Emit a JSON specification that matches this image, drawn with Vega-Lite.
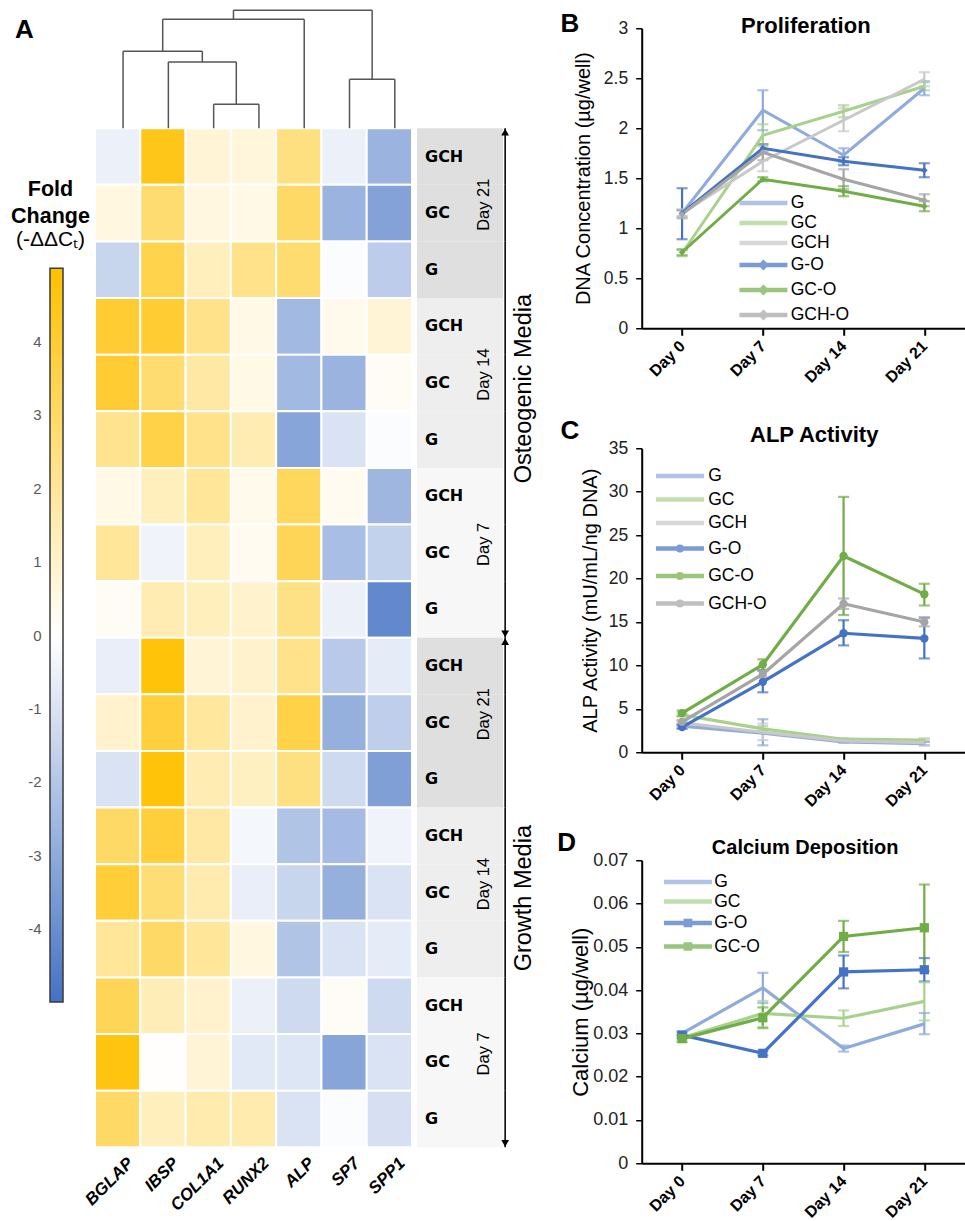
{
"$schema": "https://vega.github.io/schema/vega-lite/v6.json",
"background": "white",
"padding": {"left": 0, "top": 9.25, "right": 0, "bottom": 0},
"config": {"font": "Liberation Sans", "view": {"stroke": null}, "axis": {"grid": false}},
"datasets": {
"heat": [
{"sample":"Osteogenic Day 21 GCH","media":"Osteogenic Media","day":"Day 21","grp":"GCH","BGLAP":-0.5,"IBSP":4.5,"COL1A1":0.8,"RUNX2":0.7,"ALP":2.5,"SP7":-0.5,"SPP1":-2.7},
{"sample":"Osteogenic Day 21 GC","media":"Osteogenic Media","day":"Day 21","grp":"GC","BGLAP":0.6,"IBSP":2.8,"COL1A1":0.6,"RUNX2":0.5,"ALP":3.0,"SP7":-2.7,"SPP1":-3.3},
{"sample":"Osteogenic Day 21 G","media":"Osteogenic Media","day":"Day 21","grp":"G","BGLAP":-1.5,"IBSP":3.5,"COL1A1":1.3,"RUNX2":2.3,"ALP":2.8,"SP7":-0.1,"SPP1":-1.8},
{"sample":"Osteogenic Day 14 GCH","media":"Osteogenic Media","day":"Day 14","grp":"GCH","BGLAP":4.0,"IBSP":4.0,"COL1A1":2.3,"RUNX2":0.5,"ALP":-2.5,"SP7":0.4,"SPP1":0.8},
{"sample":"Osteogenic Day 14 GC","media":"Osteogenic Media","day":"Day 14","grp":"GC","BGLAP":4.0,"IBSP":2.8,"COL1A1":1.8,"RUNX2":0.5,"ALP":-2.5,"SP7":-2.7,"SPP1":0.2},
{"sample":"Osteogenic Day 14 G","media":"Osteogenic Media","day":"Day 14","grp":"G","BGLAP":2.2,"IBSP":3.6,"COL1A1":2.3,"RUNX2":1.5,"ALP":-3.2,"SP7":-1.0,"SPP1":-0.1},
{"sample":"Osteogenic Day 7 GCH","media":"Osteogenic Media","day":"Day 7","grp":"GCH","BGLAP":0.5,"IBSP":1.3,"COL1A1":2.0,"RUNX2":0.4,"ALP":3.2,"SP7":0.3,"SPP1":-2.6},
{"sample":"Osteogenic Day 7 GC","media":"Osteogenic Media","day":"Day 7","grp":"GC","BGLAP":2.0,"IBSP":-0.4,"COL1A1":1.3,"RUNX2":0.3,"ALP":3.3,"SP7":-2.3,"SPP1":-1.6},
{"sample":"Osteogenic Day 7 G","media":"Osteogenic Media","day":"Day 7","grp":"G","BGLAP":0.2,"IBSP":1.5,"COL1A1":1.3,"RUNX2":1.0,"ALP":2.4,"SP7":-0.5,"SPP1":-4.2},
{"sample":"Growth Day 21 GCH","media":"Growth Media","day":"Day 21","grp":"GCH","BGLAP":-0.6,"IBSP":4.8,"COL1A1":0.8,"RUNX2":1.0,"ALP":2.3,"SP7":-1.9,"SPP1":-0.7},
{"sample":"Growth Day 21 GC","media":"Growth Media","day":"Day 21","grp":"GC","BGLAP":1.0,"IBSP":3.8,"COL1A1":1.9,"RUNX2":1.0,"ALP":3.6,"SP7":-2.8,"SPP1":-1.7},
{"sample":"Growth Day 21 G","media":"Growth Media","day":"Day 21","grp":"G","BGLAP":-1.0,"IBSP":4.8,"COL1A1":1.5,"RUNX2":1.2,"ALP":2.5,"SP7":-1.3,"SPP1":-3.4},
{"sample":"Growth Day 14 GCH","media":"Growth Media","day":"Day 14","grp":"GCH","BGLAP":3.0,"IBSP":3.9,"COL1A1":1.8,"RUNX2":-0.3,"ALP":-2.1,"SP7":-2.4,"SPP1":-0.4},
{"sample":"Growth Day 14 GC","media":"Growth Media","day":"Day 14","grp":"GC","BGLAP":3.9,"IBSP":2.7,"COL1A1":1.6,"RUNX2":-0.6,"ALP":-1.5,"SP7":-2.8,"SPP1":-1.0},
{"sample":"Growth Day 14 G","media":"Growth Media","day":"Day 14","grp":"G","BGLAP":2.0,"IBSP":3.0,"COL1A1":2.0,"RUNX2":0.6,"ALP":-2.1,"SP7":-1.0,"SPP1":-0.7},
{"sample":"Growth Day 7 GCH","media":"Growth Media","day":"Day 7","grp":"GCH","BGLAP":3.3,"IBSP":1.4,"COL1A1":1.0,"RUNX2":-0.5,"ALP":-1.3,"SP7":0.2,"SPP1":-1.3},
{"sample":"Growth Day 7 GC","media":"Growth Media","day":"Day 7","grp":"GC","BGLAP":4.7,"IBSP":0.05,"COL1A1":0.8,"RUNX2":-0.8,"ALP":-0.9,"SP7":-3.2,"SPP1":-1.0},
{"sample":"Growth Day 7 G","media":"Growth Media","day":"Day 7","grp":"G","BGLAP":3.0,"IBSP":1.3,"COL1A1":1.6,"RUNX2":1.6,"ALP":-1.0,"SP7":-0.1,"SPP1":-1.1}
],
"dendro": [
{"from":2.5,"to":2.5,"lower":0,"upper":0.203},
{"from":3.5,"to":3.5,"lower":0,"upper":0.203},
{"from":2.5,"to":3.5,"lower":0.203,"upper":0.203},
{"from":1.5,"to":1.5,"lower":0,"upper":0.562},
{"from":3.0,"to":3.0,"lower":0.203,"upper":0.562},
{"from":1.5,"to":3.0,"lower":0.562,"upper":0.562},
{"from":0.5,"to":0.5,"lower":0,"upper":0.653},
{"from":2.25,"to":2.25,"lower":0.562,"upper":0.653},
{"from":0.5,"to":2.25,"lower":0.653,"upper":0.653},
{"from":1.375,"to":1.375,"lower":0.653,"upper":0.924},
{"from":4.5,"to":4.5,"lower":0,"upper":0.924},
{"from":1.375,"to":4.5,"lower":0.924,"upper":0.924},
{"from":5.5,"to":5.5,"lower":0,"upper":0.415},
{"from":6.5,"to":6.5,"lower":0,"upper":0.415},
{"from":5.5,"to":6.5,"lower":0.415,"upper":0.415},
{"from":2.9375,"to":2.9375,"lower":0.924,"upper":1},
{"from":6.0,"to":6.0,"lower":0.415,"upper":1},
{"from":2.9375,"to":6.0,"lower":1,"upper":1}
],
"legendbar": [{"lo": -5, "hi": 5}],
"prolif": [
{"series":"G","day":"Day 0","v":1.15,"lo":1.12,"hi":1.18},
{"series":"G","day":"Day 7","v":2.18,"lo":1.98,"hi":2.38},
{"series":"G","day":"Day 14","v":1.73,"lo":1.66,"hi":1.80},
{"series":"G","day":"Day 21","v":2.40,"lo":2.33,"hi":2.47},
{"series":"GC","day":"Day 0","v":0.75,"lo":0.72,"hi":0.78},
{"series":"GC","day":"Day 7","v":1.93,"lo":1.82,"hi":2.04},
{"series":"GC","day":"Day 14","v":2.17,"lo":2.11,"hi":2.23},
{"series":"GC","day":"Day 21","v":2.42,"lo":2.38,"hi":2.46},
{"series":"GCH","day":"Day 0","v":1.15,"lo":1.11,"hi":1.19},
{"series":"GCH","day":"Day 7","v":1.67,"lo":1.57,"hi":1.77},
{"series":"GCH","day":"Day 14","v":2.08,"lo":1.97,"hi":2.20},
{"series":"GCH","day":"Day 21","v":2.49,"lo":2.42,"hi":2.56},
{"series":"G-O","day":"Day 0","v":1.15,"lo":0.89,"hi":1.40},
{"series":"G-O","day":"Day 7","v":1.80,"lo":1.76,"hi":1.84},
{"series":"G-O","day":"Day 14","v":1.67,"lo":1.63,"hi":1.71},
{"series":"G-O","day":"Day 21","v":1.58,"lo":1.51,"hi":1.65},
{"series":"GC-O","day":"Day 0","v":0.76,"lo":0.73,"hi":0.79},
{"series":"GC-O","day":"Day 7","v":1.49,"lo":1.47,"hi":1.51},
{"series":"GC-O","day":"Day 14","v":1.37,"lo":1.32,"hi":1.42},
{"series":"GC-O","day":"Day 21","v":1.22,"lo":1.17,"hi":1.27},
{"series":"GCH-O","day":"Day 0","v":1.14,"lo":1.10,"hi":1.18},
{"series":"GCH-O","day":"Day 7","v":1.76,"lo":1.68,"hi":1.84},
{"series":"GCH-O","day":"Day 14","v":1.49,"lo":1.39,"hi":1.59},
{"series":"GCH-O","day":"Day 21","v":1.28,"lo":1.22,"hi":1.34}
],
"alp": [
{"series":"G","day":"Day 0","v":3.0,"lo":2.8,"hi":3.2},
{"series":"G","day":"Day 7","v":2.2,"lo":0.8,"hi":3.8},
{"series":"G","day":"Day 14","v":1.2,"lo":1.1,"hi":1.3},
{"series":"G","day":"Day 21","v":1.0,"lo":0.8,"hi":1.2},
{"series":"GC","day":"Day 0","v":4.3,"lo":4.1,"hi":4.5},
{"series":"GC","day":"Day 7","v":2.7,"lo":2.4,"hi":3.0},
{"series":"GC","day":"Day 14","v":1.5,"lo":1.4,"hi":1.6},
{"series":"GC","day":"Day 21","v":1.4,"lo":1.2,"hi":1.6},
{"series":"GCH","day":"Day 0","v":3.4,"lo":3.2,"hi":3.6},
{"series":"GCH","day":"Day 7","v":2.3,"lo":1.4,"hi":3.3},
{"series":"GCH","day":"Day 14","v":1.3,"lo":1.2,"hi":1.4},
{"series":"GCH","day":"Day 21","v":1.1,"lo":0.8,"hi":1.4},
{"series":"G-O","day":"Day 0","v":2.9,"lo":2.7,"hi":3.1},
{"series":"G-O","day":"Day 7","v":8.1,"lo":6.9,"hi":9.4},
{"series":"G-O","day":"Day 14","v":13.7,"lo":12.3,"hi":15.2},
{"series":"G-O","day":"Day 21","v":13.1,"lo":10.8,"hi":15.5},
{"series":"GC-O","day":"Day 0","v":4.5,"lo":4.2,"hi":4.8},
{"series":"GC-O","day":"Day 7","v":10.1,"lo":9.5,"hi":10.7},
{"series":"GC-O","day":"Day 14","v":22.6,"lo":15.8,"hi":29.4},
{"series":"GC-O","day":"Day 21","v":18.2,"lo":16.9,"hi":19.4},
{"series":"GCH-O","day":"Day 0","v":3.5,"lo":3.3,"hi":3.7},
{"series":"GCH-O","day":"Day 7","v":9.0,"lo":8.6,"hi":9.4},
{"series":"GCH-O","day":"Day 14","v":17.1,"lo":16.5,"hi":17.7},
{"series":"GCH-O","day":"Day 21","v":15.0,"lo":14.5,"hi":15.5}
],
"calcium": [
{"series":"G","day":"Day 0","v":0.0300,"lo":0.0295,"hi":0.0305},
{"series":"G","day":"Day 7","v":0.0405,"lo":0.0370,"hi":0.0440},
{"series":"G","day":"Day 14","v":0.0265,"lo":0.0258,"hi":0.0272},
{"series":"G","day":"Day 21","v":0.0322,"lo":0.0298,"hi":0.0347},
{"series":"GC","day":"Day 0","v":0.0290,"lo":0.0285,"hi":0.0295},
{"series":"GC","day":"Day 7","v":0.0346,"lo":0.0315,"hi":0.0375},
{"series":"GC","day":"Day 14","v":0.0335,"lo":0.0317,"hi":0.0353},
{"series":"GC","day":"Day 21","v":0.0374,"lo":0.0330,"hi":0.0418},
{"series":"G-O","day":"Day 0","v":0.0296,"lo":0.0290,"hi":0.0302},
{"series":"G-O","day":"Day 7","v":0.0254,"lo":0.0249,"hi":0.0259},
{"series":"G-O","day":"Day 14","v":0.0442,"lo":0.0404,"hi":0.0480},
{"series":"G-O","day":"Day 21","v":0.0447,"lo":0.0420,"hi":0.0474},
{"series":"GC-O","day":"Day 0","v":0.0288,"lo":0.0280,"hi":0.0296},
{"series":"GC-O","day":"Day 7","v":0.0336,"lo":0.0312,"hi":0.0360},
{"series":"GC-O","day":"Day 14","v":0.0524,"lo":0.0488,"hi":0.0560},
{"series":"GC-O","day":"Day 21","v":0.0544,"lo":0.0444,"hi":0.0644}
]
},
"bounds": "flush",
"spacing": 111.7,
"hconcat": [
{
"width": 530, "height": 1119,
"resolve": {"scale": {"x": "independent", "y": "independent", "color": "independent"}},
"layer": [
{
"data": {"name": "heat"},
"transform": [{"fold": ["BGLAP","IBSP","COL1A1","RUNX2","ALP","SP7","SPP1"], "as": ["gene","fc"]}],
"mark": {"type": "rect", "stroke": "white", "strokeWidth": 2},
"encoding": {
"x": {"field": "gene", "type": "nominal", "scale": {"type": "band", "domain": ["BGLAP","IBSP","COL1A1","RUNX2","ALP","SP7","SPP1"], "range": [95, 412], "paddingInner": 0, "paddingOuter": 0},
"axis": {"orient": "bottom", "title": null, "domain": false, "ticks": false, "labelAngle": -45, "labelAlign": "right", "labelBaseline": "middle", "labelFontStyle": "italic", "labelFontWeight": "bold", "labelFontSize": 17, "labelColor": "black", "labelPadding": 13, "labelOffset": 13}},
"y": {"field": "sample", "type": "nominal", "scale": {"type": "band", "domain": ["Osteogenic Day 21 GCH","Osteogenic Day 21 GC","Osteogenic Day 21 G","Osteogenic Day 14 GCH","Osteogenic Day 14 GC","Osteogenic Day 14 G","Osteogenic Day 7 GCH","Osteogenic Day 7 GC","Osteogenic Day 7 G","Growth Day 21 GCH","Growth Day 21 GC","Growth Day 21 G","Growth Day 14 GCH","Growth Day 14 GC","Growth Day 14 G","Growth Day 7 GCH","Growth Day 7 GC","Growth Day 7 G"], "range": [100, 1119], "paddingInner": 0, "paddingOuter": 0}, "axis": null},
"color": {"field": "fc", "type": "quantitative", "scale": {"domain": [-5, 0, 5], "range": ["#4472c4", "#ffffff", "#ffc000"], "interpolate": "rgb"}, "legend": null}
}
},
{
"data": {"name": "heat"},
"mark": {"type": "rect"},
"encoding": {
"x": {"datum": 0, "type": "quantitative", "scale": {"domain": [0, 1], "range": [417, 503], "nice": false, "zero": false}, "axis": null},
"x2": {"datum": 1},
"y": {"field": "sample", "type": "nominal", "scale": {"type": "band", "domain": ["Osteogenic Day 21 GCH","Osteogenic Day 21 GC","Osteogenic Day 21 G","Osteogenic Day 14 GCH","Osteogenic Day 14 GC","Osteogenic Day 14 G","Osteogenic Day 7 GCH","Osteogenic Day 7 GC","Osteogenic Day 7 G","Growth Day 21 GCH","Growth Day 21 GC","Growth Day 21 G","Growth Day 14 GCH","Growth Day 14 GC","Growth Day 14 G","Growth Day 7 GCH","Growth Day 7 GC","Growth Day 7 G"], "range": [100, 1119], "paddingInner": 0, "paddingOuter": 0}, "axis": null},
"color": {"field": "day", "type": "nominal", "scale": {"domain": ["Day 21", "Day 14", "Day 7"], "range": ["#dfdfdf", "#eeeeee", "#f7f7f7"]}, "legend": null}
}
},
{
"data": {"name": "heat"},
"mark": {"type": "text", "align": "left", "baseline": "middle", "font": "DejaVu Sans", "fontWeight": "bold", "fontSize": 16, "color": "black"},
"encoding": {
"x": {"datum": 0.093, "type": "quantitative", "scale": {"domain": [0, 1], "range": [417, 503], "nice": false, "zero": false}, "axis": null},
"y": {"field": "sample", "type": "nominal", "scale": {"type": "band", "domain": ["Osteogenic Day 21 GCH","Osteogenic Day 21 GC","Osteogenic Day 21 G","Osteogenic Day 14 GCH","Osteogenic Day 14 GC","Osteogenic Day 14 G","Osteogenic Day 7 GCH","Osteogenic Day 7 GC","Osteogenic Day 7 G","Growth Day 21 GCH","Growth Day 21 GC","Growth Day 21 G","Growth Day 14 GCH","Growth Day 14 GC","Growth Day 14 G","Growth Day 7 GCH","Growth Day 7 GC","Growth Day 7 G"], "range": [100, 1119], "paddingInner": 0, "paddingOuter": 0}, "axis": null},
"text": {"field": "grp"}
}
},
{
"data": {"name": "heat"},
"transform": [{"filter": "datum.grp === 'GC'"}],
"mark": {"type": "text", "align": "center", "baseline": "middle", "angle": 270, "font": "Liberation Sans Narrow, Liberation Sans", "fontSize": 16.5, "color": "black"},
"encoding": {
"x": {"datum": 0.78, "type": "quantitative", "scale": {"domain": [0, 1], "range": [417, 503], "nice": false, "zero": false}, "axis": null},
"y": {"field": "sample", "type": "nominal", "bandPosition": 0.35, "scale": {"type": "band", "domain": ["Osteogenic Day 21 GCH","Osteogenic Day 21 GC","Osteogenic Day 21 G","Osteogenic Day 14 GCH","Osteogenic Day 14 GC","Osteogenic Day 14 G","Osteogenic Day 7 GCH","Osteogenic Day 7 GC","Osteogenic Day 7 G","Growth Day 21 GCH","Growth Day 21 GC","Growth Day 21 G","Growth Day 14 GCH","Growth Day 14 GC","Growth Day 14 G","Growth Day 7 GCH","Growth Day 7 GC","Growth Day 7 G"], "range": [100, 1119], "paddingInner": 0, "paddingOuter": 0}, "axis": null},
"text": {"field": "day"}
}
},
{
"data": {"name": "heat"},
"mark": {"type": "rect", "color": "black"},
"encoding": {
"x": {"datum": 1.016, "type": "quantitative", "scale": {"domain": [0, 1], "range": [417, 503], "nice": false, "zero": false}, "axis": null},
"x2": {"datum": 1.034},
"y": {"field": "sample", "type": "nominal", "scale": {"type": "band", "domain": ["Osteogenic Day 21 GCH","Osteogenic Day 21 GC","Osteogenic Day 21 G","Osteogenic Day 14 GCH","Osteogenic Day 14 GC","Osteogenic Day 14 G","Osteogenic Day 7 GCH","Osteogenic Day 7 GC","Osteogenic Day 7 G","Growth Day 21 GCH","Growth Day 21 GC","Growth Day 21 G","Growth Day 14 GCH","Growth Day 14 GC","Growth Day 14 G","Growth Day 7 GCH","Growth Day 7 GC","Growth Day 7 G"], "range": [100, 1119], "paddingInner": 0, "paddingOuter": 0}, "axis": null}
}
},
{
"data": {"name": "heat"},
"transform": [{"filter": {"field": "sample", "oneOf": ["Osteogenic Day 21 GCH", "Growth Day 21 GCH"]}}],
"mark": {"type": "point", "shape": "triangle-up", "filled": true, "size": 60, "color": "black", "opacity": 1},
"encoding": {
"x": {"datum": 1.025, "type": "quantitative", "scale": {"domain": [0, 1], "range": [417, 503], "nice": false, "zero": false}, "axis": null},
"y": {"field": "sample", "type": "nominal", "bandPosition": 0.07, "scale": {"type": "band", "domain": ["Osteogenic Day 21 GCH","Osteogenic Day 21 GC","Osteogenic Day 21 G","Osteogenic Day 14 GCH","Osteogenic Day 14 GC","Osteogenic Day 14 G","Osteogenic Day 7 GCH","Osteogenic Day 7 GC","Osteogenic Day 7 G","Growth Day 21 GCH","Growth Day 21 GC","Growth Day 21 G","Growth Day 14 GCH","Growth Day 14 GC","Growth Day 14 G","Growth Day 7 GCH","Growth Day 7 GC","Growth Day 7 G"], "range": [100, 1119], "paddingInner": 0, "paddingOuter": 0}, "axis": null}
}
},
{
"data": {"name": "heat"},
"transform": [{"filter": {"field": "sample", "oneOf": ["Osteogenic Day 7 G", "Growth Day 7 G"]}}],
"mark": {"type": "point", "shape": "triangle-down", "filled": true, "size": 60, "color": "black", "opacity": 1},
"encoding": {
"x": {"datum": 1.025, "type": "quantitative", "scale": {"domain": [0, 1], "range": [417, 503], "nice": false, "zero": false}, "axis": null},
"y": {"field": "sample", "type": "nominal", "bandPosition": 0.93, "scale": {"type": "band", "domain": ["Osteogenic Day 21 GCH","Osteogenic Day 21 GC","Osteogenic Day 21 G","Osteogenic Day 14 GCH","Osteogenic Day 14 GC","Osteogenic Day 14 G","Osteogenic Day 7 GCH","Osteogenic Day 7 GC","Osteogenic Day 7 G","Growth Day 21 GCH","Growth Day 21 GC","Growth Day 21 G","Growth Day 14 GCH","Growth Day 14 GC","Growth Day 14 G","Growth Day 7 GCH","Growth Day 7 GC","Growth Day 7 G"], "range": [100, 1119], "paddingInner": 0, "paddingOuter": 0}, "axis": null}
}
},
{
"data": {"name": "heat"},
"transform": [{"filter": "datum.day === 'Day 14' && datum.grp === 'GC'"}],
"mark": {"type": "text", "align": "center", "baseline": "middle", "angle": 270, "fontSize": 23.5, "color": "black"},
"encoding": {
"x": {"datum": 1.244, "type": "quantitative", "scale": {"domain": [0, 1], "range": [417, 503], "nice": false, "zero": false}, "axis": null},
"y": {"field": "sample", "type": "nominal", "bandPosition": 0.6, "scale": {"type": "band", "domain": ["Osteogenic Day 21 GCH","Osteogenic Day 21 GC","Osteogenic Day 21 G","Osteogenic Day 14 GCH","Osteogenic Day 14 GC","Osteogenic Day 14 G","Osteogenic Day 7 GCH","Osteogenic Day 7 GC","Osteogenic Day 7 G","Growth Day 21 GCH","Growth Day 21 GC","Growth Day 21 G","Growth Day 14 GCH","Growth Day 14 GC","Growth Day 14 G","Growth Day 7 GCH","Growth Day 7 GC","Growth Day 7 G"], "range": [100, 1119], "paddingInner": 0, "paddingOuter": 0}, "axis": null},
"text": {"field": "media"}
}
},
{
"data": {"name": "dendro"},
"mark": {"type": "rule", "color": "#555555", "strokeWidth": 1.5},
"encoding": {
"x": {"field": "from", "type": "quantitative", "scale": {"domain": [-0.12, 6.88], "range": [95, 412], "nice": false, "zero": false}, "axis": null},
"x2": {"field": "to"},
"y": {"field": "lower", "type": "quantitative", "scale": {"domain": [0, 1], "range": [100, -18], "nice": false, "zero": false},
"axis": {"orient": "left", "title": "A", "titleAngle": 0, "titleX": 24, "titleY": 1, "titleAlign": "center", "titleBaseline": "middle", "titleFontSize": 26, "titleFontWeight": "bold", "titleColor": "black", "labels": false, "ticks": false, "domain": false}},
"y2": {"field": "upper"}
}
},
{
"data": {"name": "legendbar"},
"mark": {"type": "rect", "fill": {"gradient": "linear", "x1": 0, "y1": 0, "x2": 0, "y2": 1, "stops": [{"offset": 0, "color": "#ffc000"}, {"offset": 0.5, "color": "#ffffff"}, {"offset": 1, "color": "#4472c4"}]}, "stroke": "#3a3a3a", "strokeWidth": 1.5},
"encoding": {
"x": {"datum": 0, "type": "quantitative", "scale": {"domain": [0, 1], "range": [50, 63], "nice": false, "zero": false},
"axis": {"orient": "top", "title": "(-ΔΔCₜ)", "titleX": 50, "titleY": 217, "titleAlign": "center", "titleBaseline": "alphabetic", "titleFontSize": 21, "titleFontWeight": "normal", "titleColor": "black", "labels": false, "ticks": false, "domain": false}},
"x2": {"datum": 1},
"y": {"field": "lo", "type": "quantitative", "scale": {"domain": [-5, 5], "range": [973.7, 240], "nice": false, "zero": false},
"axis": {"orient": "left", "offset": -50, "values": [-4, -3, -2, -1, 0, 1, 2, 3, 4], "labelExpr": "'' + datum.value", "domain": false, "tickSize": -7, "tickColor": "#3a3a3a", "tickWidth": 1.2, "labelPadding": 16, "labelFontSize": 15, "labelColor": "#595959",
"title": ["Fold", "Change"], "titleAngle": 0, "titleX": 0, "titleY": 167, "titleAlign": "center", "titleBaseline": "alphabetic", "titleFontSize": 21.5, "titleFontWeight": "bold", "titleColor": "black", "titleLineHeight": 27}},
"y2": {"field": "hi"}
}
}
]
},
{
"bounds": "flush",
"spacing": 120,
"resolve": {"scale": {"color": "independent", "shape": "independent"}},
"vconcat": [
{
"width": 323, "height": 300,
"data": {"name": "prolif"},
"resolve": {"axis": {"x": "independent", "y": "independent"}},
"layer": [
{
"mark": {"type": "rule", "strokeWidth": 2.2},
"encoding": {
"x": {"field": "day", "type": "ordinal", "scale": {"type": "point", "domain": ["Day 0","Day 7","Day 14","Day 21"], "padding": 0.5}, "axis": null},
"y": {"field": "lo", "type": "quantitative", "scale": {"domain": [0, 3], "nice": false, "zero": false},
"axis": {"orient": "left", "title": "B", "titleAngle": 0, "titleX": -81.7, "titleY": -4.5, "titleAlign": "left", "titleBaseline": "middle", "titleFontSize": 26, "titleFontWeight": "bold", "titleColor": "black", "labels": false, "ticks": false, "domain": false}},
"y2": {"field": "hi"},
"color": {"field": "series", "type": "nominal", "scale": {"domain": ["G","GC","GCH","G-O","GC-O","GCH-O"], "range": ["#8faadc","#a9d18e","#c8c8c8","#4472c4","#70ad47","#a5a5a5"]}}
}
},
{
"mark": {"type": "tick", "thickness": 2.2, "size": 11},
"encoding": {
"x": {"field": "day", "type": "ordinal", "scale": {"type": "point", "domain": ["Day 0","Day 7","Day 14","Day 21"], "padding": 0.5},
"axis": {"orient": "top", "title": "Proliferation", "titleX": 163.6, "titleY": 3.9, "titleAlign": "center", "titleBaseline": "alphabetic", "titleFontSize": 22, "titleFontWeight": "bold", "titleColor": "black", "labels": false, "ticks": false, "domain": false}},
"y": {"field": "lo", "type": "quantitative", "scale": {"domain": [0, 3], "nice": false, "zero": false}, "axis": null},
"color": {"field": "series", "type": "nominal", "scale": {"domain": ["G","GC","GCH","G-O","GC-O","GCH-O"], "range": ["#8faadc","#a9d18e","#c8c8c8","#4472c4","#70ad47","#a5a5a5"]}}
}
},
{
"mark": {"type": "tick", "thickness": 2.2, "size": 11},
"encoding": {
"x": {"field": "day", "type": "ordinal", "scale": {"type": "point", "domain": ["Day 0","Day 7","Day 14","Day 21"], "padding": 0.5}, "axis": null},
"y": {"field": "hi", "type": "quantitative", "scale": {"domain": [0, 3], "nice": false, "zero": false}, "axis": null},
"color": {"field": "series", "type": "nominal", "scale": {"domain": ["G","GC","GCH","G-O","GC-O","GCH-O"], "range": ["#8faadc","#a9d18e","#c8c8c8","#4472c4","#70ad47","#a5a5a5"]}}
}
},
{
"mark": {"type": "line", "strokeWidth": 3},
"encoding": {
"x": {"field": "day", "type": "ordinal", "scale": {"type": "point", "domain": ["Day 0","Day 7","Day 14","Day 21"], "padding": 0.5},
"axis": {"orient": "bottom", "title": null, "labelAngle": -45, "labelAlign": "right", "labelBaseline": "middle", "labelFontSize": 16, "labelFontWeight": "bold", "labelColor": "black", "labelPadding": 8, "tickSize": 7, "tickWidth": 2, "tickColor": "black", "domainColor": "black", "domainWidth": 2}},
"y": {"field": "v", "type": "quantitative", "scale": {"domain": [0, 3], "nice": false, "zero": false},
"axis": {"orient": "left", "title": "DNA Concentration (µg/well)", "titleFontSize": 20, "titleFontWeight": "normal", "titleColor": "black", "titleX": -58.7, "titleBaseline": "middle", "values": [0, 0.5, 1, 1.5, 2, 2.5, 3], "format": ".1~f", "labelFontSize": 17.5, "labelColor": "#222222", "labelPadding": 8, "tickSize": 6, "tickWidth": 1.5, "tickColor": "black", "domainColor": "black", "domainWidth": 2}},
"color": {"field": "series", "type": "nominal", "scale": {"domain": ["G","GC","GCH","G-O","GC-O","GCH-O"], "range": ["#8faadc","#a9d18e","#c8c8c8","#4472c4","#70ad47","#a5a5a5"]},
"legend": {"orient": "none", "legendX": 113, "legendY": 166, "title": null, "padding": 0, "symbolSize": 144, "symbolStrokeWidth": 4.5, "symbolOpacity": 1, "labelFontSize": 17.5, "labelColor": "black", "labelOffset": 18.5, "rowPadding": 1.0}}
}
},
{
"transform": [{"filter": {"field": "series", "oneOf": ["G-O", "GC-O", "GCH-O"]}}],
"mark": {"type": "point", "filled": true, "shape": "diamond", "size": 45, "opacity": 1},
"encoding": {
"x": {"field": "day", "type": "ordinal", "scale": {"type": "point", "domain": ["Day 0","Day 7","Day 14","Day 21"], "padding": 0.5}, "axis": null},
"y": {"field": "v", "type": "quantitative", "scale": {"domain": [0, 3], "nice": false, "zero": false}, "axis": null},
"color": {"field": "series", "type": "nominal", "scale": {"domain": ["G","GC","GCH","G-O","GC-O","GCH-O"], "range": ["#8faadc","#a9d18e","#c8c8c8","#4472c4","#70ad47","#a5a5a5"]}}
}
},
{
"transform": [{"filter": "false"}],
"mark": {"type": "point", "filled": false, "opacity": 1},
"encoding": {
"color": {"field": "series", "type": "nominal", "scale": {"domain": ["G","GC","GCH","G-O","GC-O","GCH-O"], "range": ["#8faadc","#a9d18e","#c8c8c8","#4472c4","#70ad47","#a5a5a5"]},
"legend": {"orient": "none", "legendX": 113, "legendY": 166, "title": null, "padding": 0, "symbolSize": 144, "symbolStrokeWidth": 4.5, "symbolOpacity": 1, "labelFontSize": 17.5, "labelColor": "black", "labelOffset": 18.5, "rowPadding": 1.0}},
"shape": {"field": "series", "type": "nominal", "scale": {"domain": ["G","GC","GCH","G-O","GC-O","GCH-O"], "range": ["M-4,0H4", "M-4,0H4", "M-4,0H4", "M-4,0H4M0,-0.4L0.4,0L0,0.4L-0.4,0Z", "M-4,0H4M0,-0.4L0.4,0L0,0.4L-0.4,0Z", "M-4,0H4M0,-0.4L0.4,0L0,0.4L-0.4,0Z"]},
"legend": {"orient": "none", "legendX": 113, "legendY": 166, "title": null, "padding": 0, "symbolSize": 144, "symbolStrokeWidth": 4.5, "symbolOpacity": 1, "labelFontSize": 17.5, "labelColor": "black", "labelOffset": 18.5, "rowPadding": 1.0}}
}
}
]
},
{
"bounds": "flush",
"spacing": 108,
"resolve": {"scale": {"color": "independent", "shape": "independent"}},
"vconcat": [
{
"width": 323, "height": 304,
"data": {"name": "alp"},
"resolve": {"axis": {"x": "independent", "y": "independent"}},
"layer": [
{
"mark": {"type": "rule", "strokeWidth": 2.2},
"encoding": {
"x": {"field": "day", "type": "ordinal", "scale": {"type": "point", "domain": ["Day 0","Day 7","Day 14","Day 21"], "padding": 0.5}, "axis": null},
"y": {"field": "lo", "type": "quantitative", "scale": {"domain": [0, 35], "nice": false, "zero": false},
"axis": {"orient": "left", "title": "C", "titleAngle": 0, "titleX": -81.7, "titleY": -18, "titleAlign": "left", "titleBaseline": "middle", "titleFontSize": 26, "titleFontWeight": "bold", "titleColor": "black", "labels": false, "ticks": false, "domain": false}},
"y2": {"field": "hi"},
"color": {"field": "series", "type": "nominal", "scale": {"domain": ["G","GC","GCH","G-O","GC-O","GCH-O"], "range": ["#8faadc","#a9d18e","#c8c8c8","#4472c4","#70ad47","#a5a5a5"]}}
}
},
{
"mark": {"type": "tick", "thickness": 2.2, "size": 11},
"encoding": {
"x": {"field": "day", "type": "ordinal", "scale": {"type": "point", "domain": ["Day 0","Day 7","Day 14","Day 21"], "padding": 0.5},
"axis": {"orient": "top", "title": "ALP Activity", "titleX": 172, "titleY": -7, "titleAlign": "center", "titleBaseline": "alphabetic", "titleFontSize": 22, "titleFontWeight": "bold", "titleColor": "black", "labels": false, "ticks": false, "domain": false}},
"y": {"field": "lo", "type": "quantitative", "scale": {"domain": [0, 35], "nice": false, "zero": false}, "axis": null},
"color": {"field": "series", "type": "nominal", "scale": {"domain": ["G","GC","GCH","G-O","GC-O","GCH-O"], "range": ["#8faadc","#a9d18e","#c8c8c8","#4472c4","#70ad47","#a5a5a5"]}}
}
},
{
"mark": {"type": "tick", "thickness": 2.2, "size": 11},
"encoding": {
"x": {"field": "day", "type": "ordinal", "scale": {"type": "point", "domain": ["Day 0","Day 7","Day 14","Day 21"], "padding": 0.5}, "axis": null},
"y": {"field": "hi", "type": "quantitative", "scale": {"domain": [0, 35], "nice": false, "zero": false}, "axis": null},
"color": {"field": "series", "type": "nominal", "scale": {"domain": ["G","GC","GCH","G-O","GC-O","GCH-O"], "range": ["#8faadc","#a9d18e","#c8c8c8","#4472c4","#70ad47","#a5a5a5"]}}
}
},
{
"mark": {"type": "line", "strokeWidth": 3.2},
"encoding": {
"x": {"field": "day", "type": "ordinal", "scale": {"type": "point", "domain": ["Day 0","Day 7","Day 14","Day 21"], "padding": 0.5},
"axis": {"orient": "bottom", "title": null, "labelAngle": -45, "labelAlign": "right", "labelBaseline": "middle", "labelFontSize": 16, "labelFontWeight": "bold", "labelColor": "black", "labelPadding": 8, "tickSize": 7, "tickWidth": 2, "tickColor": "black", "domainColor": "black", "domainWidth": 2}},
"y": {"field": "v", "type": "quantitative", "scale": {"domain": [0, 35], "nice": false, "zero": false},
"axis": {"orient": "left", "title": "ALP Activity (mU/mL/ng DNA)", "titleFontSize": 20, "titleFontWeight": "normal", "titleColor": "black", "titleX": -51.7, "titleBaseline": "middle", "values": [0, 5, 10, 15, 20, 25, 30, 35], "format": "d", "labelFontSize": 17.5, "labelColor": "#222222", "labelPadding": 8, "tickSize": 6, "tickWidth": 1.5, "tickColor": "black", "domainColor": "black", "domainWidth": 2}},
"color": {"field": "series", "type": "nominal", "scale": {"domain": ["G","GC","GCH","G-O","GC-O","GCH-O"], "range": ["#8faadc","#a9d18e","#c8c8c8","#4472c4","#70ad47","#a5a5a5"]},
"legend": {"orient": "none", "legendX": 29.5, "legendY": 19, "title": null, "padding": 0, "symbolSize": 144, "symbolStrokeWidth": 4.5, "symbolOpacity": 1, "labelFontSize": 17.5, "labelColor": "black", "labelOffset": 19.5, "rowPadding": 4.5}}
}
},
{
"transform": [{"filter": {"field": "series", "oneOf": ["G-O", "GC-O", "GCH-O"]}}],
"mark": {"type": "point", "filled": true, "shape": "circle", "size": 70, "opacity": 1},
"encoding": {
"x": {"field": "day", "type": "ordinal", "scale": {"type": "point", "domain": ["Day 0","Day 7","Day 14","Day 21"], "padding": 0.5}, "axis": null},
"y": {"field": "v", "type": "quantitative", "scale": {"domain": [0, 35], "nice": false, "zero": false}, "axis": null},
"color": {"field": "series", "type": "nominal", "scale": {"domain": ["G","GC","GCH","G-O","GC-O","GCH-O"], "range": ["#8faadc","#a9d18e","#c8c8c8","#4472c4","#70ad47","#a5a5a5"]}}
}
},
{
"transform": [{"filter": "false"}],
"mark": {"type": "point", "filled": false, "opacity": 1},
"encoding": {
"color": {"field": "series", "type": "nominal", "scale": {"domain": ["G","GC","GCH","G-O","GC-O","GCH-O"], "range": ["#8faadc","#a9d18e","#c8c8c8","#4472c4","#70ad47","#a5a5a5"]},
"legend": {"orient": "none", "legendX": 29.5, "legendY": 19, "title": null, "padding": 0, "symbolSize": 144, "symbolStrokeWidth": 4.5, "symbolOpacity": 1, "labelFontSize": 17.5, "labelColor": "black", "labelOffset": 19.5, "rowPadding": 4.5}},
"shape": {"field": "series", "type": "nominal", "scale": {"domain": ["G","GC","GCH","G-O","GC-O","GCH-O"], "range": ["M-4,0H4", "M-4,0H4", "M-4,0H4", "M-4,0H4M0.3,0A0.3,0.3,0,1,1,-0.3,0A0.3,0.3,0,1,1,0.3,0Z", "M-4,0H4M0.3,0A0.3,0.3,0,1,1,-0.3,0A0.3,0.3,0,1,1,0.3,0Z", "M-4,0H4M0.3,0A0.3,0.3,0,1,1,-0.3,0A0.3,0.3,0,1,1,0.3,0Z"]},
"legend": {"orient": "none", "legendX": 29.5, "legendY": 19, "title": null, "padding": 0, "symbolSize": 144, "symbolStrokeWidth": 4.5, "symbolOpacity": 1, "labelFontSize": 17.5, "labelColor": "black", "labelOffset": 19.5, "rowPadding": 4.5}}
}
}
]
},
{
"width": 323, "height": 303,
"data": {"name": "calcium"},
"resolve": {"axis": {"x": "independent", "y": "independent"}},
"layer": [
{
"mark": {"type": "rule", "strokeWidth": 2.2},
"encoding": {
"x": {"field": "day", "type": "ordinal", "scale": {"type": "point", "domain": ["Day 0","Day 7","Day 14","Day 21"], "padding": 0.5}, "axis": null},
"y": {"field": "lo", "type": "quantitative", "scale": {"domain": [0, 0.07], "nice": false, "zero": false},
"axis": {"orient": "left", "title": "D", "titleAngle": 0, "titleX": -85, "titleY": -18, "titleAlign": "left", "titleBaseline": "middle", "titleFontSize": 26, "titleFontWeight": "bold", "titleColor": "black", "labels": false, "ticks": false, "domain": false}},
"y2": {"field": "hi"},
"color": {"field": "series", "type": "nominal", "scale": {"domain": ["G","GC","G-O","GC-O"], "range": ["#8faadc","#a9d18e","#4472c4","#70ad47"]}}
}
},
{
"mark": {"type": "tick", "thickness": 2.2, "size": 11},
"encoding": {
"x": {"field": "day", "type": "ordinal", "scale": {"type": "point", "domain": ["Day 0","Day 7","Day 14","Day 21"], "padding": 0.5},
"axis": {"orient": "top", "title": "Calcium Deposition", "titleX": 163, "titleY": -7, "titleAlign": "center", "titleBaseline": "alphabetic", "titleFontSize": 20, "titleFontWeight": "bold", "titleColor": "black", "labels": false, "ticks": false, "domain": false}},
"y": {"field": "lo", "type": "quantitative", "scale": {"domain": [0, 0.07], "nice": false, "zero": false}, "axis": null},
"color": {"field": "series", "type": "nominal", "scale": {"domain": ["G","GC","G-O","GC-O"], "range": ["#8faadc","#a9d18e","#4472c4","#70ad47"]}}
}
},
{
"mark": {"type": "tick", "thickness": 2.2, "size": 11},
"encoding": {
"x": {"field": "day", "type": "ordinal", "scale": {"type": "point", "domain": ["Day 0","Day 7","Day 14","Day 21"], "padding": 0.5}, "axis": null},
"y": {"field": "hi", "type": "quantitative", "scale": {"domain": [0, 0.07], "nice": false, "zero": false}, "axis": null},
"color": {"field": "series", "type": "nominal", "scale": {"domain": ["G","GC","G-O","GC-O"], "range": ["#8faadc","#a9d18e","#4472c4","#70ad47"]}}
}
},
{
"mark": {"type": "line", "strokeWidth": 3.2},
"encoding": {
"x": {"field": "day", "type": "ordinal", "scale": {"type": "point", "domain": ["Day 0","Day 7","Day 14","Day 21"], "padding": 0.5},
"axis": {"orient": "bottom", "title": null, "labelAngle": -45, "labelAlign": "right", "labelBaseline": "middle", "labelFontSize": 16, "labelFontWeight": "bold", "labelColor": "black", "labelPadding": 8, "tickSize": 7, "tickWidth": 2, "tickColor": "black", "domainColor": "black", "domainWidth": 2}},
"y": {"field": "v", "type": "quantitative", "scale": {"domain": [0, 0.07], "nice": false, "zero": false},
"axis": {"orient": "left", "title": "Calcium (µg/well)", "titleFontSize": 22, "titleFontWeight": "normal", "titleColor": "black", "titleX": -61.7, "titleBaseline": "middle", "values": [0, 0.01, 0.02, 0.03, 0.04, 0.05, 0.06, 0.07], "format": ".2~f", "labelFontSize": 18, "labelColor": "#222222", "labelPadding": 8, "tickSize": 6, "tickWidth": 1.5, "tickColor": "black", "domainColor": "black", "domainWidth": 2}},
"color": {"field": "series", "type": "nominal", "scale": {"domain": ["G","GC","G-O","GC-O"], "range": ["#8faadc","#a9d18e","#4472c4","#70ad47"]},
"legend": {"orient": "none", "legendX": 37.5, "legendY": 13, "title": null, "padding": 0, "symbolSize": 144, "symbolStrokeWidth": 4.5, "symbolOpacity": 1, "labelFontSize": 17.5, "labelColor": "black", "labelOffset": 17.5, "rowPadding": 0.5}}
}
},
{
"transform": [{"filter": {"field": "series", "oneOf": ["G-O", "GC-O"]}}],
"mark": {"type": "point", "filled": true, "shape": "square", "size": 85, "opacity": 1},
"encoding": {
"x": {"field": "day", "type": "ordinal", "scale": {"type": "point", "domain": ["Day 0","Day 7","Day 14","Day 21"], "padding": 0.5}, "axis": null},
"y": {"field": "v", "type": "quantitative", "scale": {"domain": [0, 0.07], "nice": false, "zero": false}, "axis": null},
"color": {"field": "series", "type": "nominal", "scale": {"domain": ["G","GC","G-O","GC-O"], "range": ["#8faadc","#a9d18e","#4472c4","#70ad47"]}}
}
},
{
"transform": [{"filter": "false"}],
"mark": {"type": "point", "filled": false, "opacity": 1},
"encoding": {
"color": {"field": "series", "type": "nominal", "scale": {"domain": ["G","GC","G-O","GC-O"], "range": ["#8faadc","#a9d18e","#4472c4","#70ad47"]},
"legend": {"orient": "none", "legendX": 37.5, "legendY": 13, "title": null, "padding": 0, "symbolSize": 144, "symbolStrokeWidth": 4.5, "symbolOpacity": 1, "labelFontSize": 17.5, "labelColor": "black", "labelOffset": 17.5, "rowPadding": 0.5}},
"shape": {"field": "series", "type": "nominal", "scale": {"domain": ["G","GC","G-O","GC-O"], "range": ["M-4,0H4", "M-4,0H4", "M-4,0H4M-0.35,-0.35H0.35V0.35H-0.35Z", "M-4,0H4M-0.35,-0.35H0.35V0.35H-0.35Z"]},
"legend": {"orient": "none", "legendX": 37.5, "legendY": 13, "title": null, "padding": 0, "symbolSize": 144, "symbolStrokeWidth": 4.5, "symbolOpacity": 1, "labelFontSize": 17.5, "labelColor": "black", "labelOffset": 17.5, "rowPadding": 0.5}}
}
}
]
}
]
}
]
}
]
}
